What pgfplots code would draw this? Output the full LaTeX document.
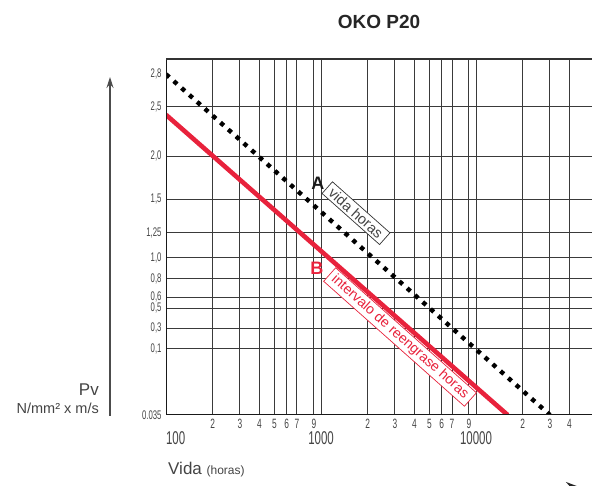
\documentclass[border=0pt]{standalone}
\usepackage{pgfplots}
\pgfplotsset{compat=1.18}
\usetikzlibrary{arrows.meta}
\usepackage{fontspec}
\setmainfont{Liberation Sans}
\newfontfamily\condfont[FakeStretch=0.62]{Liberation Sans}
\newcommand\sx{\condfont\fontsize{13.5}{13.5}\selectfont}
\newcommand\sy{\condfont\fontsize{12.5}{12.5}\selectfont}
\newcommand\bx{\condfont\fontsize{18.5}{18.5}\selectfont}
\definecolor{okored}{HTML}{E8223C}
\definecolor{gridc}{HTML}{3A3A3A}
\definecolor{txtc}{HTML}{444444}
\begin{document}
\begin{tikzpicture}[x=1pt,y=1pt]
\useasboundingbox (0,0) rectangle (592,486);
\begin{axis}[
  at={(166pt,71pt)}, anchor=south west,
  scale only axis, width=426pt, height=356pt,
  xmode=log, xmin=100, xmax=56000,
  ymin=0.035, ymax=2.94,
  y coord trafo/.code={\pgfmathparse{#1<0.1 ? (#1-0.035)*1020 : (#1<0.3 ? 66.3+(#1-0.1)*102 : (#1<0.5 ? 86.7+(#1-0.3)*100 : (#1<0.6 ? 106.7+(#1-0.5)*110 : (#1<0.8 ? 117.7+(#1-0.6)*93 : (#1<1.0 ? 136.3+(#1-0.8)*105 : (#1<1.25 ? 157.3+(#1-1.0)*100 : (#1<1.5 ? 182.3+(#1-1.25)*134.8 : (#1<2.0 ? 216+(#1-1.5)*86 : (#1<2.5 ? 259+(#1-2.0)*98.6 : 308.3+(#1-2.5)*109))))))))))}},
  axis line style={draw=none},
  major tick length=0pt, xminorticks=false,
  grid=major,
  major grid style={line width=1pt, color=gridc},
  xtick={200,300,400,500,600,700,900,2000,3000,4000,5000,6000,7000,9000,20000,30000,40000},
  xticklabels={\sx 2,\sx 3,\sx 4,\sx 5,\sx 6,\sx 7,\sx 9,\sx 2,\sx 3,\sx 4,\sx 5,\sx 6,\sx 7,\sx 9,\sx 2,\sx 3,\sx 4},
  xticklabel style={text=txtc, yshift=-1pt},
  extra x ticks={100,1000,10000},
  extra x tick labels={\makebox[0pt][l]{\bx 100},\bx 1000,\bx 10000},
  extra x tick style={grid=major, tick label style={text=txtc, yshift=-12pt}},
  ytick={0.1,0.3,0.5,0.6,0.8,1.0,1.25,1.5,2.0,2.5},
  yticklabels={{\sy 0,1},{\sy 0,3},{\sy 0,5},{\sy 0,6},{\sy 0,8},{\sy 1,0},{\sy 1,25},{\sy 1,5},{\sy 2,0},{\sy 2,5}},
  yticklabel style={text=txtc, xshift=-1pt},
  extra y ticks={0.035,2.8},
  extra y tick labels={\sy 0.035,{\sy 2,8}},
  extra y tick style={grid=none},
  clip=true,
]
\addplot[okored, line width=4.6pt] coordinates {(100,2.42) (16000,0.035)};
\addplot[black, line width=4.4pt, dash pattern=on 4.4pt off 6pt] coordinates {(100,2.8) (30000,0.035)};
\draw[line width=2.5pt, black!90] (rel axis cs:0,1) -- (rel axis cs:0,0) -- (rel axis cs:1,0);
\draw[line width=2pt, black!80] (rel axis cs:0,1) -- (rel axis cs:1,1);
\node[font=\fontsize{18}{18}\selectfont\bfseries, text=black!90] at (axis cs:956,1.686) {A};
\node[draw=black!80, line width=0.7pt, fill=white, rotate=-41.6, inner xsep=5pt, inner ysep=2.5pt, font=\fontsize{14.5}{14.5}\selectfont, text=txtc] at (axis cs:1682,1.396) {vida horas};
\node[font=\fontsize{18}{18}\selectfont\bfseries, text=okored] at (axis cs:942,0.902) {B};
\node[draw=okored, line width=0.7pt, fill=white, rotate=-41.6, inner xsep=5pt, inner ysep=2.5pt, font=\fontsize{14}{14}\selectfont, text=okored] at (axis cs:3234,0.215) {intervalo de reengrase horas};
\end{axis}
\node[font=\fontsize{19}{20}\selectfont\bfseries, text=black!85] at (379,464) {OKO P20};
\draw[line width=1.2pt, black!70, -{Stealth[length=11pt,width=7pt]}] (110,70) -- (110,409);
\node[anchor=east, font=\fontsize{17}{17}\selectfont, text=txtc, inner sep=0pt] at (99,96) {Pv};
\node[anchor=east, font=\fontsize{14.5}{15}\selectfont, text=txtc, inner sep=0pt] at (99,78) {N/mm² x m/s};
\node[anchor=base west, font=\fontsize{17}{17}\selectfont, text=txtc, inner sep=0pt] at (168,11) {Vida {\fontsize{12}{12}\selectfont(horas)}};
\draw[line width=1.5pt, black!85, -{Stealth[length=16pt,width=12pt]}] (530,-2) -- (582,-2);
\end{tikzpicture}
\end{document}
